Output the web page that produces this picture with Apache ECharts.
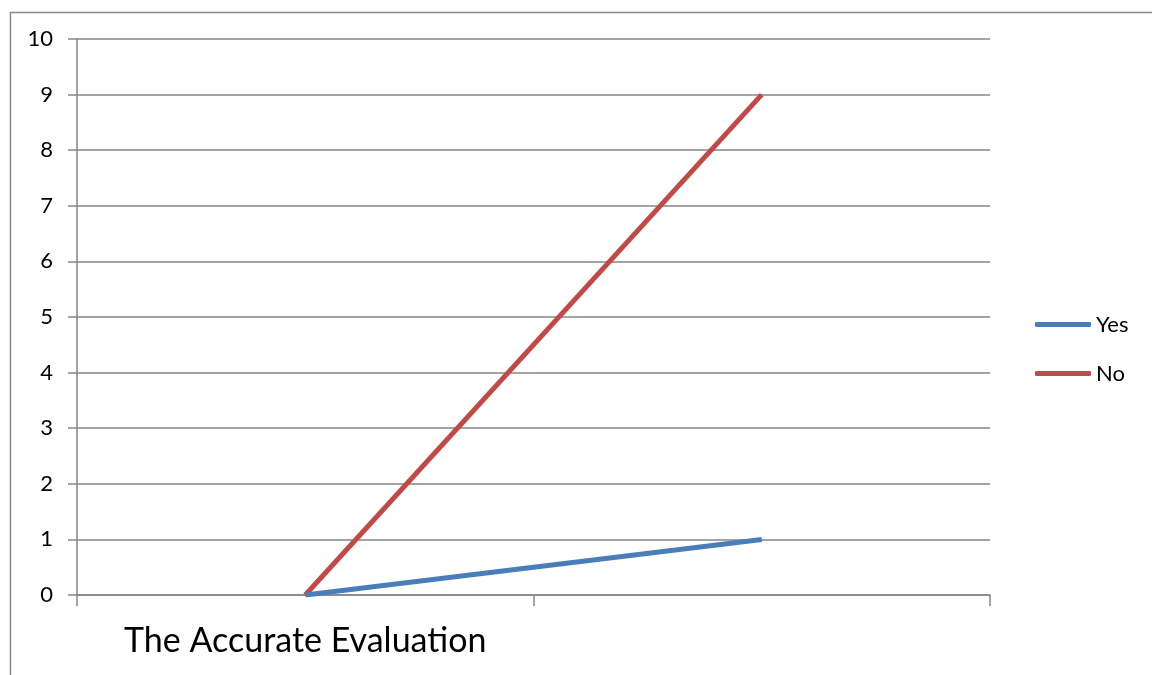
<!DOCTYPE html>
<html>
<head>
<meta charset="utf-8">
<script src="https://cdn.jsdelivr.net/npm/echarts@6/dist/echarts.min.js"></script>
<style>html,body{margin:0;padding:0;background:#fff}#c{width:1152px;height:675px}</style>
</head>
<body>
<div id="c"></div>
<script>
var categories = ['The Accurate Evaluation', ''];
var yesValues = [0, 1];
var noValues = [0, 9];
var seriesNames = ['Yes', 'No'];

var chart = echarts.init(document.getElementById('c'), null, {renderer: 'canvas'});
var font = 'Lato, "Open Sans", sans-serif';
chart.setOption({
  animation: false,
  backgroundColor: '#fff',
  graphic: [{
    type: 'rect', left: 8, top: 10, shape: {width: 1300, height: 800},
    style: {fill: 'none', stroke: '#888', lineWidth: 1.5}, silent: true
  }],
  grid: {left: 77, right: 162, top: 39, bottom: 80},
  legend: {
    orient: 'vertical', left: 1030, top: 308,
    itemWidth: 56, itemHeight: 5, itemGap: 26,
    icon: 'roundRect',
    textStyle: {fontFamily: font, fontSize: 22, color: '#000', lineHeight: 23},
    data: seriesNames
  },
  xAxis: {
    type: 'category', data: categories, boundaryGap: true,
    axisLine: {lineStyle: {color: '#868686', width: 1.5}},
    axisTick: {show: true, length: 11, interval: 0, lineStyle: {color: '#868686', width: 1.5}},
    axisLabel: {fontFamily: font, fontSize: 34, color: '#000', margin: 29, interval: 0}
  },
  yAxis: {
    type: 'value', min: 0, max: 10, interval: 1,
    axisLine: {show: true, lineStyle: {color: '#868686', width: 1.5}},
    axisTick: {show: true, length: 9, lineStyle: {color: '#868686', width: 1.5}},
    axisLabel: {fontFamily: font, fontSize: 22, color: '#000', margin: 24},
    splitLine: {show: true, lineStyle: {color: '#868686', width: 1.5}}
  },
  series: [
    {name: seriesNames[1], type: 'line', data: noValues, showSymbol: false, symbol: 'none',
     lineStyle: {color: '#be4b48', width: 5}, itemStyle: {color: '#be4b48'}, z: 2},
    {name: seriesNames[0], type: 'line', data: yesValues, showSymbol: false, symbol: 'none',
     lineStyle: {color: '#4a7ebb', width: 5}, itemStyle: {color: '#4a7ebb'}, z: 3}
  ]
});
</script>
</body>
</html>
